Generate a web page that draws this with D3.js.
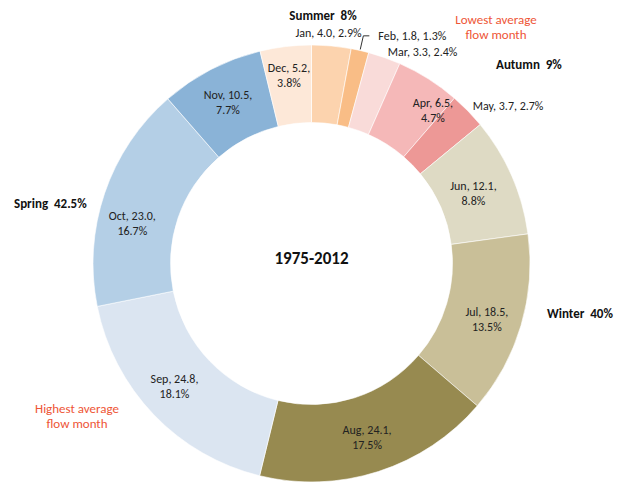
<!DOCTYPE html>
<html><head><meta charset="utf-8">
<script src="https://cdn.jsdelivr.net/npm/d3@7"></script>
<style>
html,body{margin:0;padding:0;background:#fff;}
svg{display:block;font-family:Carlito,Lato,"Liberation Sans",sans-serif;}
</style></head><body>
<svg id="chart" width="625" height="482"></svg>
<script>
const months = ["Jan","Feb","Mar","Apr","May","Jun","Jul","Aug","Sep","Oct","Nov","Dec"];
const flows = [4.0,1.8,3.3,6.5,3.7,12.1,18.5,24.1,24.8,23.0,10.5,5.2];
const shares = ["2.9%","1.3%","2.4%","4.7%","2.7%","8.8%","13.5%","17.5%","18.1%","16.7%","7.7%","3.8%"];
const colors = ["#FCD3AE","#F9BD86","#F9DBD9","#F5B8B8","#ED9896","#DEDAC4","#C9BF98","#978A50","#DBE5F1","#B4CFE6","#8AB3D7","#FDE8D8"];
const outsideMonths = ["Jan","Feb","Mar","May"];
const seasons = [
  {text:"Summer  8%", x:323, y:15, anchor:"middle"},
  {text:"Autumn  9%", x:496, y:64, anchor:"start"},
  {text:"Winter  40%", x:547, y:313, anchor:"start"},
  {text:"Spring  42.5%", x:14, y:203, anchor:"start"}
];
const notes = [
  {lines:["Lowest average","flow month"], x:496, y:19.5},
  {lines:["Highest average","flow month"], x:77, y:408.5}
];
const title = "1975-2012";

// label layout tweaks (angle shift in degrees, radius shift in px)
const labelNudge = {Oct:{da:-6,dr:2}, Apr:{da:6,dr:14}, Dec:{da:0,dr:8}, Sep:{da:2,dr:2}, Jul:{da:1,dr:2}, Jun:{da:0,dr:-5}};

const svg = d3.select("#chart");
const cx = 311.5, cy = 263.5, rOuter = 218.5, rInner = 141;
const g = svg.append("g").attr("transform",`translate(${cx},${cy})`);

const data = months.map((m,i)=>({month:m, value:flows[i], share:shares[i], color:colors[i]}));
const pie = d3.pie().value(d=>d.value).sort(null);
const arcs = pie(data);
const arc = d3.arc().innerRadius(rInner).outerRadius(rOuter);
const rMid = (rInner+rOuter)/2 + 2;

g.selectAll("path.slice").data(arcs).join("path")
  .attr("class","slice").attr("d",arc).attr("fill",d=>d.data.color)
  .attr("stroke","#fff").attr("stroke-width",0.6);

function ang(a){return (a.startAngle+a.endAngle)/2;}

// inside labels
const inside = arcs.filter(a=>!outsideMonths.includes(a.data.month));
const il = g.selectAll("text.in").data(inside).join("text")
  .attr("class","in").attr("text-anchor","middle")
  .attr("font-size",12).attr("fill","#222")
  .attr("transform",d=>{
    const n = labelNudge[d.data.month]||{da:0,dr:0};
    const t = ang(d) + n.da*Math.PI/180, r = rMid + n.dr;
    return `translate(${Math.sin(t)*r},${-Math.cos(t)*r})`;});
il.append("tspan").attr("x",0).attr("dy","-0.25em").text(d=>`${d.data.month}, ${d.data.value.toFixed(1)},`);
il.append("tspan").attr("x",0).attr("dy","1.25em").text(d=>d.data.share);

// outside labels
const outside = arcs.filter(a=>outsideMonths.includes(a.data.month));
outside.forEach(a=>{
  const t = ang(a);
  const lab = `${a.data.month}, ${a.data.value.toFixed(1)}, ${a.data.share}`;
  const px = r=>Math.sin(t)*r, py = r=>-Math.cos(t)*r;
  if(a.data.month==="Jan"){
    g.append("text").attr("x",px(rOuter+12)-4).attr("y",py(rOuter+12)+3)
      .attr("text-anchor","middle").attr("font-size",12).attr("fill","#222").text(lab);
  } else if(a.data.month==="Feb"){
    const x0=px(rOuter+1), y0=py(rOuter+1), x1=px(rOuter+15), y1=py(rOuter+15);
    g.append("path").attr("d",`M${x0},${y0}L${x1},${y1}L${x1+6},${y1}`)
      .attr("fill","none").attr("stroke","#333").attr("stroke-width",1);
    g.append("text").attr("x",x1+15).attr("y",y1+4)
      .attr("text-anchor","start").attr("font-size",12).attr("fill","#222").text(lab);
  } else {
    g.append("text").attr("x",px(rOuter+4)+2).attr("y",py(rOuter+4)+2)
      .attr("text-anchor","start").attr("font-size",12).attr("fill","#222").text(lab);
  }
});

// title
g.append("text").attr("text-anchor","middle").attr("y",-5).attr("dy","0.35em")
  .attr("font-size",17).attr("font-weight","bold").attr("fill","#111").text(title);

// seasons
svg.selectAll("text.season").data(seasons).join("text").attr("class","season")
  .attr("x",d=>d.x).attr("y",d=>d.y).attr("dy","0.35em").attr("text-anchor",d=>d.anchor)
  .attr("font-size",13).attr("font-weight","bold").attr("fill","#111")
  .style("white-space","pre").text(d=>d.text);

// notes
notes.forEach(n=>{
  const t = svg.append("text").attr("text-anchor","middle").attr("font-size",13).attr("fill","#EE5536");
  n.lines.forEach((l,i)=>t.append("tspan").attr("x",n.x).attr("y",n.y+i*15).attr("dy","0.35em").text(l));
});
</script></body></html>
